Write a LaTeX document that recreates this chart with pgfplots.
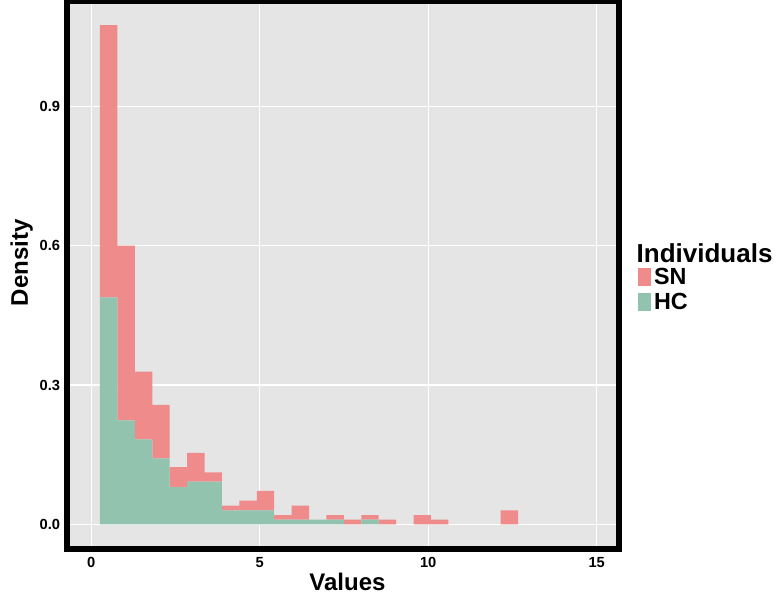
\documentclass[border=0pt]{standalone}
\usepackage{pgfplots}
\pgfplotsset{compat=1.18}
\usepackage{fontspec}
\setmainfont{Liberation Sans}
\definecolor{panelgray}{RGB}{229,229,229}
\definecolor{snpink}{RGB}{240,139,139}
\definecolor{hcgreen}{RGB}{146,195,174}
\begin{document}
\begin{tikzpicture}
\useasboundingbox (0pt,0pt) rectangle (583.5pt,450pt);
\begin{axis}[
  at={(50.25pt,38.625pt)}, anchor=south west,
  scale only axis, width=414pt, height=410.25pt,
  xmin=-0.718, xmax=15.662, ymin=-0.0521, ymax=1.126,
  clip=false,
  axis background/.style={fill=panelgray},
  axis line style={draw=none},
  grid=major, grid style={white, line width=0.8pt},
  xtick={0,5,10,15}, ytick={0,0.3,0.6,0.9},
  major tick length=0pt, tick style={draw=none},
  /pgf/number format/assume math mode=true,
  yticklabel style={/pgf/number format/fixed, /pgf/number format/fixed zerofill, /pgf/number format/precision=1,
    font=\bfseries\fontsize{11}{12}\selectfont, inner sep=0pt, anchor=east, xshift=-5pt},
  xticklabel style={font=\bfseries\fontsize{11}{12}\selectfont, inner sep=0pt, anchor=north, yshift=-6.2pt},
  xlabel={Values}, ylabel={Density},
  xlabel style={at={([yshift=-31.65pt]rel axis cs:0.508,0)}, anchor=base, inner sep=0pt, font=\bfseries\fontsize{18}{20}\selectfont},
  ylabel style={at={([xshift=-29.25pt]rel axis cs:0,0.522)}, anchor=base, inner sep=0pt, rotate=0, font=\bfseries\fontsize{18}{20}\selectfont},
  ybar stacked, bar width=0.5169, bar shift=0pt,
  legend style={at={(1.0332,0.5177)}, anchor=north west, draw=none, fill=none, inner sep=0pt,
    row sep=1.05pt, font=\bfseries\fontsize{17.5}{18}\selectfont,
    /tikz/every even column/.append style={column sep=3pt}},
  legend cell align=left,
  legend image code/.code={\fill[#1, draw=none] (0pt,-6.75pt) rectangle (10.3pt,6.75pt);},
]
\addplot[fill=hcgreen, draw=none, forget plot] coordinates {
(0.5195,0.489) (1.0364,0.224) (1.5533,0.183) (2.0702,0.142) (2.5871,0.080) (3.1040,0.092)
(3.6209,0.092) (4.1378,0.030) (4.6547,0.030) (5.1716,0.030) (5.6885,0.010) (6.2054,0.010)
(6.7223,0.010) (7.2392,0.010) (7.7561,0) (8.2730,0.010) (8.7899,0) (9.3068,0)
(9.8237,0) (10.3406,0) (10.8575,0) (11.3744,0) (11.8913,0) (12.4082,0)};
\addplot[fill=snpink, draw=none, forget plot] coordinates {
(0.5195,0.586) (1.0364,0.376) (1.5533,0.146) (2.0702,0.115) (2.5871,0.043) (3.1040,0.062)
(3.6209,0.020) (4.1378,0.010) (4.6547,0.021) (5.1716,0.042) (5.6885,0.010) (6.2054,0.030)
(6.7223,0) (7.2392,0.010) (7.7561,0.010) (8.2730,0.010) (8.7899,0.010) (9.3068,0)
(9.8237,0.020) (10.3406,0.010) (10.8575,0) (11.3744,0) (11.8913,0) (12.4082,0.030)};
\addlegendimage{fill=snpink, draw=none}
\addlegendentry{SN}
\addlegendimage{fill=hcgreen, draw=none}
\addlegendentry{HC}
\draw[line width=4.5pt, black] (rel axis cs:0,0) rectangle (rel axis cs:1,1);
\node[anchor=base west, inner sep=0pt, font=\bfseries\fontsize{19.5}{20}\selectfont] at (rel axis cs:1.0315,0.5232) {Individuals};
\end{axis}
\end{tikzpicture}
\end{document}
